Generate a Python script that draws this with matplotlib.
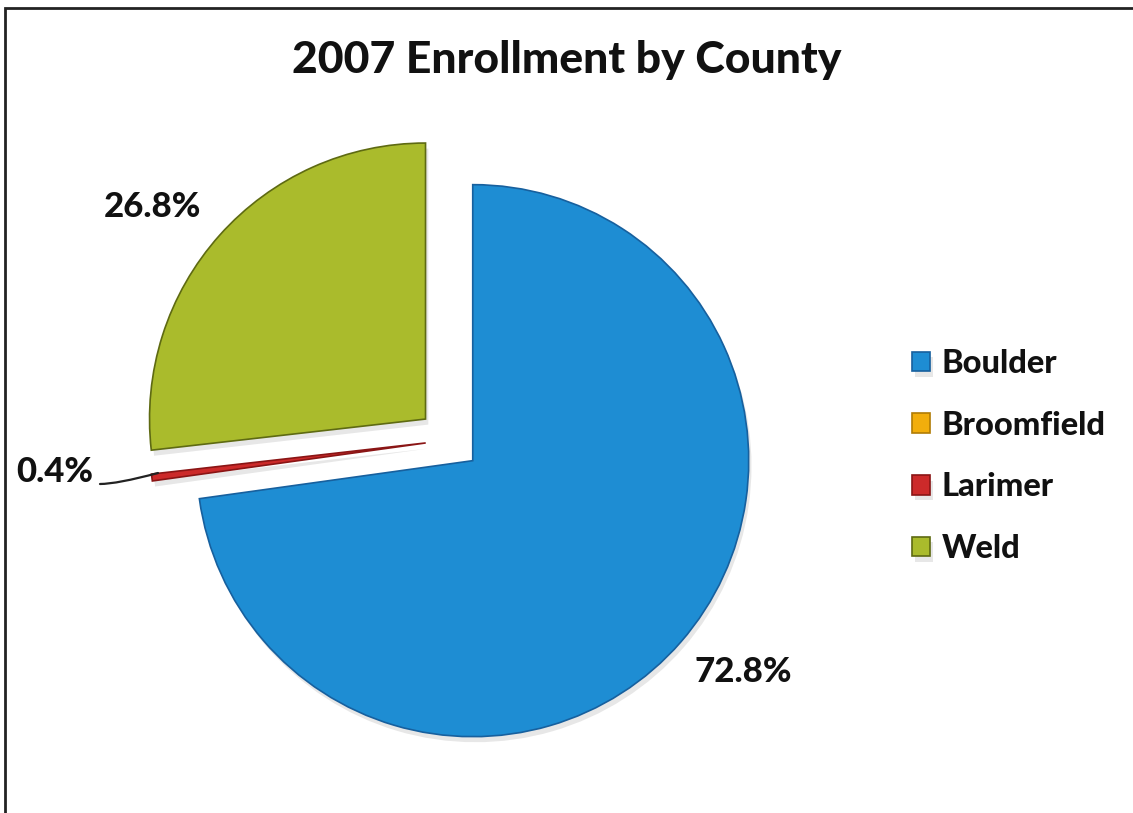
import numpy as np
import matplotlib
matplotlib.use("Agg")
from matplotlib import pyplot as plt
from matplotlib.patches import Rectangle
import matplotlib.patheffects as pe

# chart data
counties = ["Boulder", "Broomfield", "Larimer", "Weld"]
shares = [72.8, 0.0, 0.4, 26.8]
colors = ["#1E8DD3", "#F2AE0C", "#CC2A2A", "#AABB2C"]
edges = ["#17609E", "#B07C05", "#8A1515", "#5E6A12"]
explode = [0.114, 0.114, 0.085, 0.114]

W, H = 1133, 813
cx, cy, R = 449, 440, 276  # pie centre / radius in pixels

plt.rcParams["font.family"] = ["Lato", "DejaVu Sans"]
fig = plt.figure(figsize=(W / 100, H / 100), dpi=100)
ax = fig.add_axes([0, 0, 1, 1])

wedges, _ = ax.pie(shares, colors=colors, explode=explode, startangle=90,
                   counterclock=False, radius=1.0, normalize=True,
                   wedgeprops=dict(linewidth=1.2))
for w, ec, v in zip(wedges, edges, shares):
    w.set_edgecolor(ec)
    if v == 0:
        w.set_visible(False)
        continue
    w.set_path_effects([pe.SimplePatchShadow(offset=(2, -4), alpha=0.2, shadow_rgbFace="#888888"),
                        pe.Normal()])

# pixel -> data coords
def px(x, y):
    return (x - cx) / R, (cy - y) / R

ax.set_xlim(px(0, 0)[0], px(W, 0)[0])
ax.set_ylim(px(0, H)[1], px(0, 0)[1])
ax.set_aspect("equal")
ax.axis("off")

lab = dict(fontsize=25, fontweight="black", color="#111111", ha="center", va="center")
ax.text(*px(743, 672), "%.1f%%" % shares[0], **lab)
ax.text(*px(152, 207), "%.1f%%" % shares[3], **lab)
ax.text(*px(55, 472), "%.1f%%" % shares[2], **lab)
ax.annotate("", xy=px(158, 473), xytext=px(100, 484),
            arrowprops=dict(arrowstyle="-", color="#222222", lw=1.6,
                            shrinkA=0, shrinkB=0,
                            connectionstyle="angle3,angleA=0,angleB=15"))

fig.text(0.5, 1 - 60 / H, "2007 Enrollment by County", fontsize=32, fontweight="black",
         color="#111111", ha="center", va="center")

leg = ax.legend(wedges, counties, loc="upper left", bbox_to_anchor=(899 / W, 1 - 336 / H),
                bbox_transform=fig.transFigure, frameon=False,
                prop=dict(size=23.5, weight="black"), handlelength=0.55, handleheight=0.55,
                handletextpad=0.35, labelspacing=1.0, borderaxespad=0)
for t in leg.get_texts():
    t.set_color("#111111")
for h in leg.legend_handles:
    h.set_visible(True)

# outer frame of the chart
fig.patches.append(Rectangle((5 / W, -0.05), 1.2, 1 - 8 / H + 0.05, transform=fig.transFigure,
                             fill=False, edgecolor="#222222", linewidth=2))

fig.savefig("out.png", dpi=100, facecolor="white")
